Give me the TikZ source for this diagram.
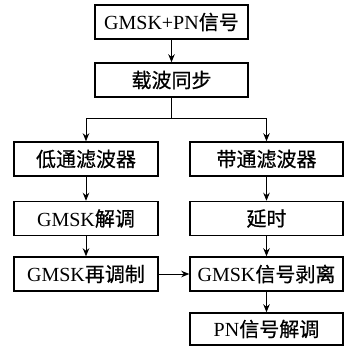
\documentclass[tikz,border=0pt]{standalone}
\usepackage{fontspec}
\setmainfont{Liberation Serif}
\newfontfamily\cjk[FakeBold=0.6]{Noto Sans CJK SC}
\usetikzlibrary{arrows.meta, positioning}

\begin{document}
\begin{tikzpicture}[
        x=1pt, y=-1pt,
        block/.style={rectangle, draw=black, line width=1.5pt, inner sep=0pt, minimum height=34pt, font=\fontsize{20}{22}\selectfont},
        wide/.style={block, minimum width=153pt},
        narrow/.style={block, minimum width=144pt},
        flow/.style={-{Stealth[length=8pt, width=6.5pt]}, line width=0.9pt},
    ]
        \useasboundingbox (0,0) rectangle (345,347);

        \node[wide] (input) at (171.5,22) {GMSK+PN{\cjk 信号}};
        \node[wide] (carrier) at (171.5,80) {\cjk 载波同步};

        \node[narrow] (lowpass) at (86,159) {\cjk 低通滤波器};
        \node[wide] (bandpass) at (266.5,159) {\cjk 带通滤波器};

        \node[narrow] (demod) at (86,218.5) {GMSK{\cjk 解调}};
        \node[wide] (delay) at (266.5,218.5) {\cjk 延时};

        \node[narrow] (remod) at (86,274) {GMSK{\cjk 再调制}};
        \node[wide] (strip) at (266.5,274) {GMSK{\cjk 信号剥离}};

        \node[wide, minimum height=32pt] (pndemod) at (266.5,329) {PN{\cjk 信号解调}};

        \coordinate (split) at (171.5,118);

        \draw[flow] (input) -- (carrier);
        \draw[line width=0.9pt] (carrier) -- (split);
        \draw[flow] (split) -| (lowpass);
        \draw[flow] (split) -| (bandpass);
        \draw[flow] (lowpass) -- (demod);
        \draw[flow] (demod) -- (remod);
        \draw[flow] (bandpass) -- (delay);
        \draw[flow] (delay) -- (strip);
        \draw[flow] (remod) -- (strip);
        \draw[flow] (strip) -- (pndemod);
    \end{tikzpicture}
\end{document}
